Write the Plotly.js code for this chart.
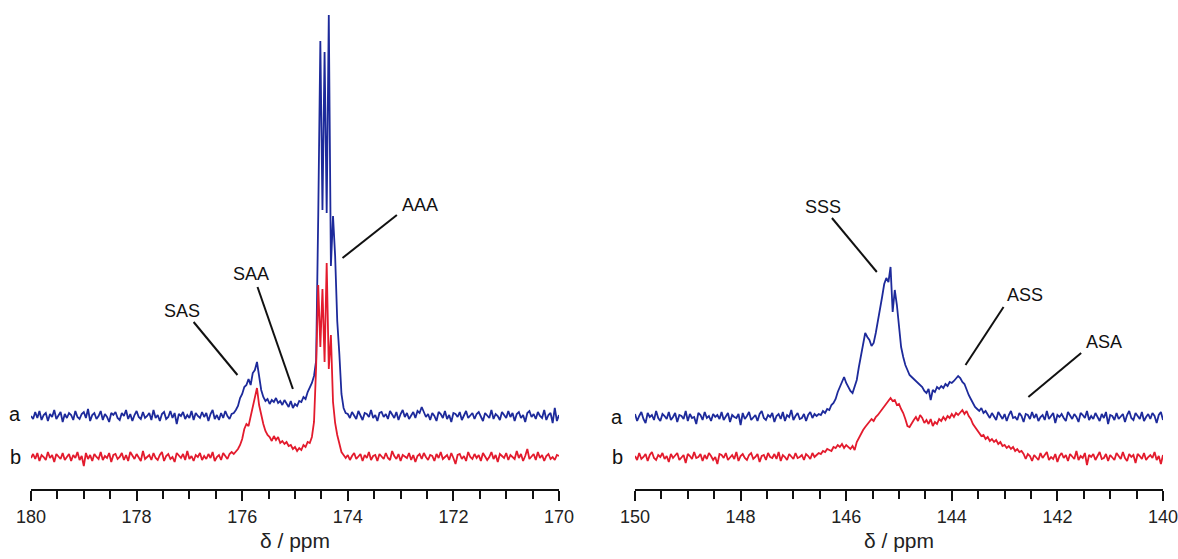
<!DOCTYPE html>
<html>
<head>
<meta charset="utf-8">
<script src="https://cdn.plot.ly/plotly-3.0.1.min.js"></script>
<style>html,body{margin:0;padding:0;background:#fff;}#chart{width:1178px;height:559px;}</style>
</head>
<body>
<div id="chart"></div>
<script>
// Chemical-shift sampling grids (ppm), 0.04 ppm per point
const leftStart = 180, rightStart = 150, ppmStep = 0.04, nPoints = 251;

// Intensities (arbitrary units, baseline = 0)
const blueLeft = [
0,-3,4,-2,5,-4,1,3,-5,2,-1,6,-3,0,4,-6,2,-2,3,1,
-4,5,-1,-3,2,4,-2,7,-5,1,3,-3,0,5,-4,2,-1,-6,3,1,
4,-2,-4,3,0,6,-3,2,-5,1,5,-1,-3,4,-2,0,3,-4,6,-2,
1,-5,2,4,-3,-1,5,-2,3,-8,2,0,4,-3,1,-2,5,-4,3,0,
-2,4,-1,3,-5,2,6,-3,1,-4,3,-2,5,0,-3,2,
3,6,10,18,22,29,31,37,31,43,46,54,40,26,19,15,17,12,16,14,
18,13,15,11,16,13,9,15,8,12,10,15,14,19,17,24,28,33,40,55,
200,375,206,364,203,401,150,200,160,95,62,22,8,3,
2,-2,4,1,-3,5,0,-4,3,2,-1,6,-2,1,-5,3,4,-1,2,-3,
5,1,-2,4,-4,2,6,-1,3,-3,1,4,-2,5,3,9,4,-1,2,-4,
3,0,-5,4,2,-2,5,-3,1,-6,3,2,-1,4,-4,1,5,-2,0,3,
-3,2,4,-1,-5,3,1,-2,6,-3,2,0,-4,4,1,-2,5,-1,3,-5,
2,4,-2,1,-6,3,5,-1,2,-3,4,0,-2,6,-4,1,3,-7,8,-5,1
];
const redLeft = [
-1,3,-2,4,-4,2,0,-3,5,-1,2,-5,3,1,-2,4,-3,0,3,-4,
2,-1,5,-3,1,-9,4,-2,2,-4,3,0,-2,5,-3,1,-1,4,-5,2,
3,-2,0,4,-3,2,-4,5,1,-2,3,-1,-4,6,-2,0,2,-3,4,-1,
-3,2,5,-4,1,3,-2,0,-5,4,2,-1,3,-3,6,-2,1,-4,2,0,
4,-3,1,-2,3,-1,5,-4,0,2,-3,4,1,-2,3,5,
3,5,8,12,18,28,33,31,40,52,60,69,52,41,33,26,22,20,16,21,
17,20,14,16,13,15,11,12,8,10,6,9,7,12,10,15,14,20,35,90,
172,110,168,95,194,88,122,55,34,22,12,5,2,-1,
2,-3,1,4,-2,0,3,-4,2,-1,5,-3,1,2,-4,3,0,-2,4,-1,
-3,6,1,-2,3,-4,2,0,-1,4,-3,2,-5,1,3,-2,4,0,-3,2,
1,-4,3,-1,5,-2,0,2,-3,4,-1,-7,2,3,-2,1,-4,5,0,-2,
3,-1,2,-4,4,1,-3,0,5,-2,2,-5,3,1,-1,4,-3,2,0,-2,
6,-1,3,-4,1,8,-2,0,3,-3,5,-1,2,-4,1,3,-2,0,-3,2,1
];
const blueRight = [
3,-4,1,5,-2,-6,4,0,2,-3,6,-1,-4,3,1,-2,5,-3,0,4,
-5,2,1,-2,6,-4,3,-1,0,-7,4,2,-3,5,-1,1,-4,3,0,2,
-2,5,-3,1,4,-5,2,0,-1,3,-8,4,-2,1,5,-3,0,2,-4,3,
6,-1,-3,2,0,4,-5,1,3,-2,5,-4,2,0,7,-3,1,4,-2,-1,
3,-4,2,5,-1,3,1,
3,2,6,4,8,7,12,14,18,25,30,36,40,34,30,26,24,30,37,50,
62,74,84,80,77,71,74,84,96,104,120,133,139,135,150,105,127,112,88,70,
60,52,47,42,40,38,36,35,33,30,26,24,28,17,27,25,30,28,31,29,
33,31,35,34,36,38,41,39,35,33,27,22,18,14,10,8,6,9,4,6,
2,-1,4,0,-3,5,1,-2,3,-4,2,6,-1,0,-3,4,1,-5,3,2,
-2,5,-1,3,-4,0,2,-3,6,-2,1,4,-6,2,0,3,-1,-4,5,1,
-2,3,0,-5,4,2,-1,6,-3,1,-2,4,0,-4,3,-1,5,-7,2,1,
-3,4,-2,0,3,-5,2,6,-1,-3,4,1,-2,5,-4,0,3,-2,4,1,
-6,2,5,-3
];
const redRight = [
1,-3,4,-2,0,3,-4,2,5,-1,-3,2,0,4,-2,1,-5,3,-1,2,
4,-3,0,2,-6,3,1,-2,5,-1,0,3,-4,2,-2,4,1,-3,0,-7,
3,2,-1,4,-3,0,2,-2,5,-4,1,3,-1,-3,2,4,-2,0,3,-5,
1,2,-3,4,0,-1,3,-2,5,-4,2,0,-3,3,1,-2,4,-1,0,2,
-3,3,1,-2,4,0,
2,4,3,6,5,8,7,6,10,9,12,10,13,9,12,10,8,11,7,15,
19,24,27,30,33,35,38,36,40,42,45,48,50,53,56,59,56,57,52,53,
48,44,38,31,30,34,37,40,36,42,39,34,37,33,38,31,35,33,38,36,
40,37,41,39,43,40,44,42,45,47,43,46,41,38,33,30,26,24,21,22,
18,20,16,18,15,17,13,15,11,12,9,11,8,10,6,8,5,6,3,
-2,3,1,-4,2,0,-3,4,-1,2,5,-3,0,-2,3,-5,1,4,-1,2,
-4,3,0,-2,6,-3,1,-1,4,-8,2,0,3,-3,1,5,-2,-1,3,-4,
2,0,-3,4,1,-2,5,-1,-4,3,0,2,-6,3,1,-2,4,-3,0,2,
-1,5,-3,1,-7,2
];

const traceLabels = ['a', 'b'];
const tickLabelsLeft = [180, 178, 176, 174, 172, 170];
const tickLabelsRight = [150, 148, 146, 144, 142, 140];
const peakLabelsLeft = ['SAS', 'SAA', 'AAA'];
const peakLabelsRight = ['SSS', 'ASS', 'ASA'];

function grid(start) {
  const g = [];
  for (let i = 0; i < nPoints; i++) g.push(+(start - ppmStep * i).toFixed(2));
  return g;
}
const ppmLeft = grid(leftStart), ppmRight = grid(rightStart);

const offA_L = 73, offA_R = 72, offB = 32;
const BLUE = '#1d2a9b', RED = '#e31b2d';
const shift = (arr, o) => arr.map(v => v + o);

const data = [
  {x: ppmLeft, y: shift(blueLeft, offA_L), xaxis: 'x', yaxis: 'y', mode: 'lines', line: {color: BLUE, width: 1.8}, name: 'a', showlegend: false, hoverinfo: 'skip'},
  {x: ppmLeft, y: shift(redLeft, offB), xaxis: 'x', yaxis: 'y', mode: 'lines', line: {color: RED, width: 1.8}, name: 'b', showlegend: false, hoverinfo: 'skip'},
  {x: ppmRight, y: shift(blueRight, offA_R), xaxis: 'x2', yaxis: 'y', mode: 'lines', line: {color: BLUE, width: 1.8}, name: 'a', showlegend: false, hoverinfo: 'skip'},
  {x: ppmRight, y: shift(redRight, offB), xaxis: 'x2', yaxis: 'y', mode: 'lines', line: {color: RED, width: 1.8}, name: 'b', showlegend: false, hoverinfo: 'skip'}
];

const FONT = 'Liberation Sans, Arial, Helvetica, sans-serif';
function xax(domain, range, ticks) {
  return {
    domain: domain, range: range, anchor: 'y',
    showline: true, linecolor: '#111', linewidth: 2,
    ticks: 'outside', ticklen: 10, tickwidth: 2, tickcolor: '#111',
    tickmode: 'array', tickvals: ticks, ticktext: ticks.map(String),
    minor: {dtick: 0.5, tick0: 170, ticks: 'outside', ticklen: 8, tickwidth: 2, tickcolor: '#111', showgrid: false},
    showgrid: false, zeroline: false,
    tickfont: {family: FONT, size: 18, color: '#222'},
    ticklabelstandoff: 0,
    ticklabeloverflow: 'allow',
    title: {text: 'δ / ppm', font: {family: FONT, size: 21, color: '#222'}, standoff: 8},
    automargin: false, fixedrange: true
  };
}

const lineStyle = {color: '#111', width: 2};
const seg = (xr, x0, y0, x1, y1) => ({type: 'line', xref: xr, yref: 'y', x0: x0, y0: y0, x1: x1, y1: y1, line: lineStyle});
const shapes = [
  seg('x', 176.92, 167, 176.09, 114),
  seg('x', 175.71, 202, 175.04, 100),
  seg('x', 173.07, 274, 174.10, 231),
  seg('x2', 146.27, 271, 145.42, 217),
  seg('x2', 143.02, 182, 143.74, 124),
  seg('x2', 141.55, 136, 142.55, 92)
];

const txt = (xr, x, y, t, s) => ({xref: xr, yref: 'y', x: x, y: y, text: t, showarrow: false, font: {family: FONT, size: s, color: '#111'}, xanchor: 'center', yanchor: 'middle'});
const annotations = [
  txt('x', 177.14, 178, peakLabelsLeft[0], 18),
  txt('x', 175.84, 215, peakLabelsLeft[1], 18),
  txt('x', 172.63, 284, peakLabelsLeft[2], 18),
  txt('x2', 146.44, 282, peakLabelsRight[0], 18),
  txt('x2', 142.62, 194, peakLabelsRight[1], 18),
  txt('x2', 141.12, 147, peakLabelsRight[2], 18),
  txt('paper', 15/1178, offA_L + 2, traceLabels[0], 20),
  txt('paper', 15/1178, offB, traceLabels[1], 20),
  txt('paper', 617/1178, offA_R, traceLabels[0], 20),
  txt('paper', 617/1178, offB, traceLabels[1], 20)
];

const layout = {
  width: 1178, height: 559,
  margin: {l: 0, r: 0, t: 10, b: 70},
  paper_bgcolor: '#fff', plot_bgcolor: '#fff',
  showlegend: false,
  xaxis: xax([31/1178, 559/1178], [180, 170], tickLabelsLeft),
  xaxis2: xax([635/1178, 1163/1178], [150, 140], tickLabelsRight),
  yaxis: {range: [0, 479], visible: false, fixedrange: true},
  shapes: shapes,
  annotations: annotations
};

Plotly.newPlot('chart', data, layout, {displayModeBar: false, staticPlot: true});
</script>
</body>
</html>
